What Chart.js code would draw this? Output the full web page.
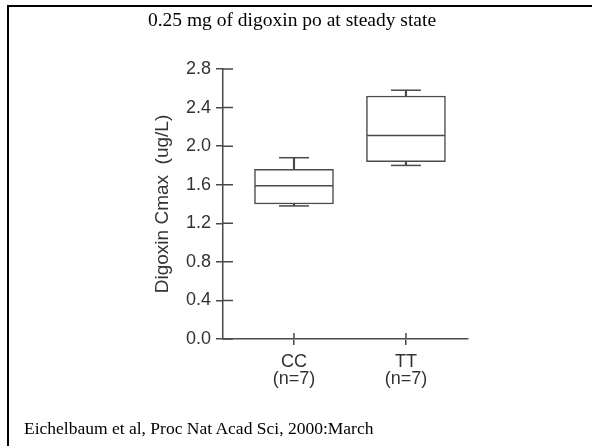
<!DOCTYPE html>
<html>
<head>
<meta charset="utf-8">
<script src="https://cdn.jsdelivr.net/npm/chart.js@4"></script>
<style>
  html, body { margin: 0; padding: 0; background: #fff; }
  #wrap { position: relative; width: 592px; height: 446px; overflow: hidden; }
  #frame { position: absolute; left: 7px; top: 5px; width: 600px; height: 460px;
           border-top: 2px solid #000; border-left: 2px solid #000; }
  #chart { position: absolute; left: 0; top: 0; }
  .txt { position: absolute; font-family: "Liberation Serif", "Times New Roman", serif;
         color: #000; line-height: 1; white-space: nowrap; }
  #title { left: 0; width: 584px; top: 10px; text-align: center; font-size: 19.5px; }
  #source { left: 24px; top: 420px; font-size: 17.5px; }
</style>
</head>
<body>
<div id="wrap">
  <div id="frame"></div>
  <canvas id="chart" width="592" height="446"></canvas>
  <div id="title" class="txt">0.25 mg of digoxin po at steady state</div>
  <div id="source" class="txt">Eichelbaum et al, Proc Nat Acad Sci, 2000:March</div>
</div>
<script>
// --- data ---
const groups = ['CC', 'TT'];
const groupN = ['(n=7)', '(n=7)'];
const whiskerLow = [1.38, 1.80];
const boxLow = [1.40, 1.84];
const medians = [1.59, 2.11];
const boxHigh = [1.76, 2.52];
const whiskerHigh = [1.88, 2.58];
const yTickValues = [0.0, 0.4, 0.8, 1.2, 1.6, 2.0, 2.4, 2.8];

const INK = '#4a4a4a';
const LABEL = '#333';
const xPos = groups.map((g, i) => i + 1);

const boxes = xPos.map((x, i) => ({ x, y: [boxLow[i], boxHigh[i]] }));
const upperWhiskers = xPos.map((x, i) => ({ x, y: [boxHigh[i], whiskerHigh[i]] }));
const lowerWhiskers = xPos.map((x, i) => ({ x, y: [whiskerLow[i], boxLow[i]] }));
const medianPts = xPos.map((x, i) => ({ x, y: medians[i] }));
const capPts = xPos.flatMap((x, i) => [{ x, y: whiskerLow[i] }, { x, y: whiskerHigh[i] }]);

// tick marks that cross the axis line (inside half)
const innerTicks = {
  id: 'innerTicks',
  afterDraw(chart) {
    const { ctx, chartArea } = chart;
    const { x, y } = chart.scales;
    ctx.save();
    ctx.strokeStyle = INK;
    ctx.lineWidth = 1.5;
    ctx.beginPath();
    y.ticks.forEach(t => {
      const py = y.getPixelForValue(t.value);
      ctx.moveTo(chartArea.left, py);
      ctx.lineTo(chartArea.left + 10, py);
    });
    x.ticks.forEach(t => {
      const px = x.getPixelForValue(t.value);
      ctx.moveTo(px, chartArea.bottom);
      ctx.lineTo(px, chartArea.bottom - 6);
    });
    ctx.stroke();
    ctx.restore();
  }
};

const ctx = document.getElementById('chart').getContext('2d');
new Chart(ctx, {
  type: 'bar',
  data: {
    datasets: [
      {
        type: 'scatter', data: medianPts, order: 1,
        pointStyle: 'line', pointRadius: 39, pointHoverRadius: 39,
        pointBorderColor: INK, pointBorderWidth: 1.5
      },
      {
        type: 'scatter', data: capPts, order: 1,
        pointStyle: 'line', pointRadius: 15, pointHoverRadius: 15,
        pointBorderColor: INK, pointBorderWidth: 1.5
      },
      {
        data: boxes, order: 2, grouped: false, barThickness: 79,
        backgroundColor: '#fff', borderColor: INK, borderWidth: 1.5, borderSkipped: false
      },
      {
        data: upperWhiskers, order: 3, grouped: false, barThickness: 1.5,
        backgroundColor: INK, borderWidth: 0
      },
      {
        data: lowerWhiskers, order: 3, grouped: false, barThickness: 1.5,
        backgroundColor: INK, borderWidth: 0
      }
    ]
  },
  options: {
    responsive: false,
    animation: false,
    events: [],
    layout: { padding: { left: 140, right: 124, top: 69, bottom: 57 } },
    plugins: { legend: { display: false }, tooltip: { enabled: false } },
    scales: {
      x: {
        type: 'linear', min: 0.366, max: 2.554, offset: false,
        afterBuildTicks: s => { s.ticks = xPos.map(v => ({ value: v })); },
        afterFit: s => { s.height = 50; },
        ticks: {
          autoSkip: false, maxRotation: 0, padding: 8,
          color: LABEL,
          font: { family: '"Liberation Sans", Arial, sans-serif', size: 18, lineHeight: 0.95 },
          callback: (v, i) => [groups[i], groupN[i]]
        },
        grid: { offset: false, drawOnChartArea: false, tickLength: 6, color: INK, lineWidth: 1.5 },
        border: { color: INK, width: 1.5 }
      },
      y: {
        min: 0, max: 2.8,
        afterBuildTicks: s => { s.ticks = yTickValues.map(v => ({ value: v })); },
        afterFit: s => { s.width = 83; },
        ticks: {
          padding: 5, color: LABEL,
          font: { family: '"Liberation Sans", Arial, sans-serif', size: 18 },
          callback: v => v.toFixed(1)
        },
        grid: { drawOnChartArea: false, tickLength: 7, color: INK, lineWidth: 1.5 },
        border: { color: INK, width: 1.5 },
        title: {
          display: true, text: 'Digoxin Cmax  (ug/L)', color: LABEL,
          font: { family: '"Liberation Sans", Arial, sans-serif', size: 19 },
          padding: { top: 11, bottom: 0 }
        }
      }
    }
  },
  plugins: [innerTicks]
});
</script>
</body>
</html>
